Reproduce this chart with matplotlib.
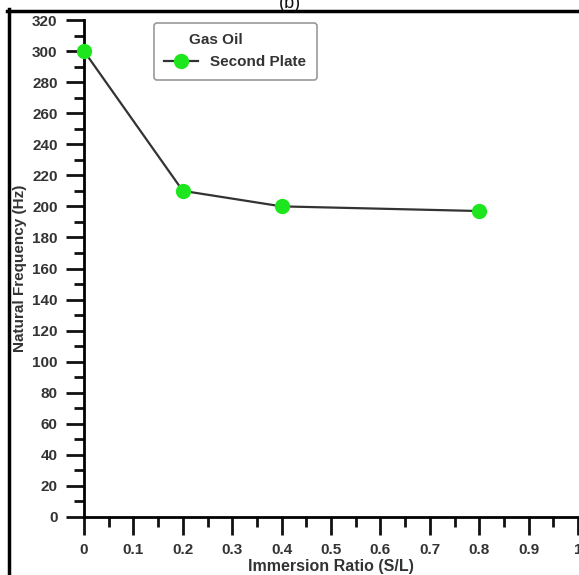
import matplotlib
matplotlib.use("Agg")
import matplotlib.pyplot as plt
from matplotlib.lines import Line2D
from matplotlib.ticker import MultipleLocator

plt.rcParams['font.family'] = ['Liberation Sans', 'DejaVu Sans']

# Immersion ratio vs natural frequency, second plate in gas oil
ratio = [0.0, 0.2, 0.4, 0.8]
freq = [300, 210, 200, 197]
xticks = [0, 0.1, 0.2, 0.3, 0.4, 0.5, 0.6, 0.7, 0.8, 0.9, 1]
xticklabels = ['0', '0.1', '0.2', '0.3', '0.4', '0.5', '0.6', '0.7', '0.8', '0.9', '1']
yticks = list(range(0, 321, 20))

W, H = 579, 575
fig = plt.figure(figsize=(W / 100, H / 100), dpi=100)
ax = fig.add_axes([84 / W, 58 / H, 494 / W, 497 / H])

ax.plot(ratio, freq, color='#333333', lw=1.6, marker='o', ms=10,
        mfc='#1ee61e', mec='#1ee61e', label='Second Plate', clip_on=False, zorder=5)

ax.set_xlim(0, 1)
ax.set_ylim(0, 320)
ax.set_xticks(xticks)
ax.set_xticklabels(xticklabels)
ax.set_yticks(yticks)
ax.xaxis.set_minor_locator(MultipleLocator(0.05))
ax.yaxis.set_minor_locator(MultipleLocator(10))

for s in ['top', 'right']:
    ax.spines[s].set_visible(False)
for s in ['left', 'bottom']:
    ax.spines[s].set_linewidth(2)

ax.tick_params(which='major', length=13, width=2, color='#111111')
ax.tick_params(which='minor', length=7, width=2, color='#111111')
ax.tick_params(axis='both', labelsize=11, labelcolor='#333333', pad=6)
for lab in ax.get_xticklabels() + ax.get_yticklabels():
    lab.set_fontweight('bold')

ax.set_xlabel('Immersion Ratio (S/L)', fontsize=11.5, fontweight='bold',
              color='#333333', labelpad=1.5)
ax.set_ylabel('Natural Frequency (Hz)', fontsize=11, fontweight='bold',
              color='#333333', labelpad=4)

leg = ax.legend(loc='upper left', bbox_to_anchor=(62 / 494, 1 + 5 / 497),
                title='Gas Oil         ', frameon=True, fancybox=True,
                prop={'weight': 'bold', 'size': 11}, handlelength=2.2,
                borderpad=0.7, labelcolor='#333333')
leg.get_title().set_fontweight('bold')
leg.get_title().set_fontsize(11)
leg.get_title().set_color('#333333')
leg.get_frame().set_edgecolor('#999999')
leg.get_frame().set_linewidth(1.2)
leg.get_frame().set_alpha(1)

# outer frame of the panel, plus its cut-off caption
fig.add_artist(Line2D([7 / W, 1], [1 - 10.5 / H, 1 - 10.5 / H], color='black', lw=2.5))
fig.add_artist(Line2D([8.5 / W, 8.5 / W], [0, 1 - 9 / H], color='black', lw=2.5))
fig.text(290 / W, 1 - 3 / H, '(b)', ha='center', va='center', fontsize=13, color='#111111')

fig.savefig('out.png', dpi=100)
